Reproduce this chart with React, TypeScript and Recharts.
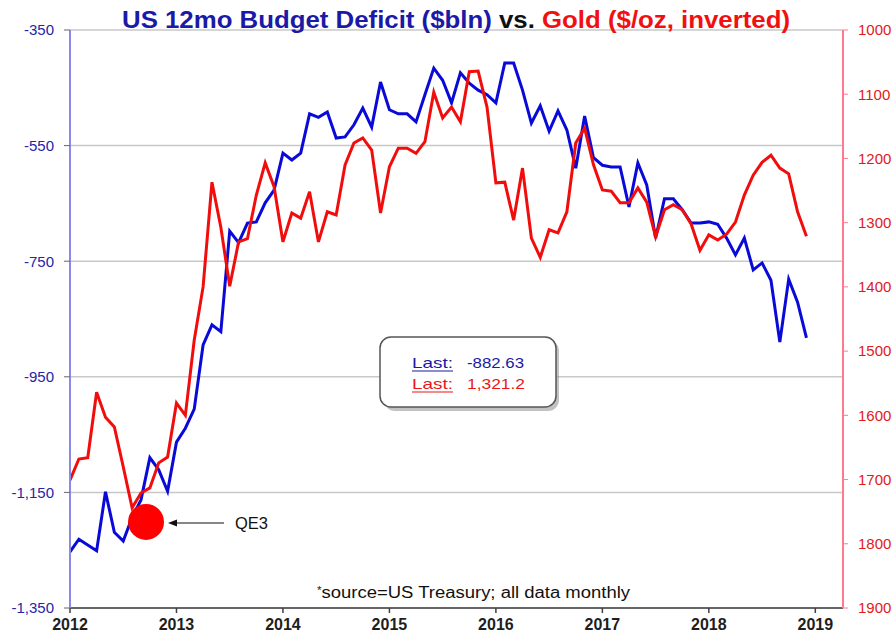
import React from "react";
import { LineChart, Line, XAxis, YAxis, CartesianGrid, ReferenceDot } from "recharts";

// Monthly, Jan 2012 .. Dec 2018
const deficit = [
  -1253, -1231, -1241, -1251, -1149, -1219, -1234, -1193, -1163, -1090, -1111, -1148,
  -1063, -1039, -1006, -895, -860, -872, -698, -718, -684, -682, -649, -627,
  -563, -575, -563, -495, -501, -492, -537, -535, -514, -485, -518, -440,
  -488, -495, -495, -509, -462, -416, -437, -476, -424, -442, -454, -462,
  -476, -407, -407, -454, -511, -481, -525, -490, -523, -589, -499, -571,
  -584, -587, -587, -656, -580, -618, -710, -642, -642, -661, -684, -684,
  -682, -686, -710, -739, -710, -765, -753, -783, -890, -781, -821, -882.63,
];
const gold = [
  1701, 1668, 1666, 1564, 1603, 1618, 1680, 1744, 1721, 1713, 1674, 1665,
  1581, 1600, 1483, 1400, 1237, 1307, 1399, 1330, 1325, 1257, 1207, 1244,
  1330, 1285, 1293, 1252, 1330, 1283, 1288, 1210, 1176, 1168, 1187, 1285,
  1213, 1184, 1184, 1192, 1174, 1097, 1137, 1120, 1143, 1065, 1064, 1120,
  1238, 1237, 1296, 1215, 1324, 1354, 1311, 1316, 1283, 1176, 1153, 1210,
  1249, 1251, 1269, 1269, 1246, 1268, 1322, 1280, 1272, 1280, 1302, 1343,
  1319, 1327, 1318, 1299, 1257, 1226, 1206, 1195, 1215, 1224, 1283, 1321.2,
];
const startYear = 2012;
const yearTicks = [2012, 2013, 2014, 2015, 2016, 2017, 2018, 2019];
const deficitTicks = [-1350, -1150, -950, -750, -550, -350];
const goldTicks = [1000, 1100, 1200, 1300, 1400, 1500, 1600, 1700, 1800, 1900];
const qe3 = { t: 2012.714, deficit: -1201 };

const data = deficit.map((d, i) => ({ t: startYear + i / 12, deficit: d, gold: gold[i] }));

const FONT = "'Liberation Sans', Arial, sans-serif";
const BLUE = "#0a0ad8";
const RED = "#f20d0d";

export default function App() {
  return (
    <div style={{ position: "absolute", left: 0, top: 0, width: 893, height: 638, background: "#fff", fontFamily: FONT }}>
      <LineChart width={893} height={638} data={data} margin={{ top: 30, right: 0, left: 0, bottom: 0 }}>
        <CartesianGrid yAxisId="left" vertical={false} stroke="#c8c8c8" strokeWidth={1.5} />
        <XAxis
          dataKey="t"
          type="number"
          domain={[2012, 2019.26]}
          ticks={yearTicks}
          allowDataOverflow
          height={30}
          stroke="#404040"
          strokeWidth={1.5}
          tickSize={5}
          tickMargin={6}
          tick={{ fill: "#1e1e1e", fontSize: 16, fontWeight: 700, fontFamily: FONT }}
        />
        <YAxis
          yAxisId="left"
          orientation="left"
          domain={[-1350, -350]}
          ticks={deficitTicks}
          allowDataOverflow
          width={70}
          axisLine={{ stroke: "#8a8ae6", strokeWidth: 2 }}
          tickLine={{ stroke: "#666" }}
          tickSize={6}
          tickMargin={10}
          tickFormatter={(v: number) => v.toLocaleString("en-US")}
          tick={{ fill: "#2525a8", fontSize: 15, fontFamily: FONT }}
        />
        <YAxis
          yAxisId="right"
          orientation="right"
          reversed
          domain={[1000, 1900]}
          ticks={goldTicks}
          allowDataOverflow
          width={50}
          axisLine={{ stroke: "#ff7a90", strokeWidth: 2 }}
          tickLine={{ stroke: "#ff7a90" }}
          tickSize={5}
          tickMargin={10}
          tick={{ fill: "#e01a1a", fontSize: 15, fontFamily: FONT, textAnchor: "start" }}
        />
        <Line yAxisId="left" dataKey="deficit" stroke={BLUE} strokeWidth={3} dot={false} isAnimationActive={false} />
        <Line yAxisId="right" dataKey="gold" stroke={RED} strokeWidth={3} dot={false} isAnimationActive={false} />
        <ReferenceDot yAxisId="left" x={qe3.t} y={qe3.deficit} r={18} fill="#ff0000" stroke="none" />
      </LineChart>
      <svg width={893} height={638} style={{ position: "absolute", left: 0, top: 0, pointerEvents: "none" }}>
        <text x={122} y={28} fontSize={24} fontWeight={700} fontFamily={FONT} textLength={668} lengthAdjust="spacingAndGlyphs">
          <tspan fill="#1a1aa6">US 12mo Budget Deficit ($bln) </tspan>
          <tspan fill="#111">vs. </tspan>
          <tspan fill="#f01010">Gold ($/oz, inverted)</tspan>
        </text>
        {/* Last box */}
        <rect x={384} y={340} width={175} height={71} rx={11} fill="#9a9a9a" opacity={0.6} />
        <rect x={380} y={337} width={176} height={70} rx={11} fill="#fff" stroke="#555" strokeWidth={1.5} />
        <text x={412} y={368} fontSize={15} fill="#1a1aa6" fontFamily={FONT} textLength={41} lengthAdjust="spacingAndGlyphs">Last:</text>
        <line x1={412} x2={453} y1={371} y2={371} stroke="#1a1aa6" strokeWidth={1.2} />
        <text x={467} y={368} fontSize={15} fill="#1a1aa6" fontFamily={FONT} textLength={57} lengthAdjust="spacingAndGlyphs">-882.63</text>
        <text x={412} y={389} fontSize={15} fill="#e81818" fontFamily={FONT} textLength={41} lengthAdjust="spacingAndGlyphs">Last:</text>
        <line x1={412} x2={453} y1={392} y2={392} stroke="#e81818" strokeWidth={1.2} />
        <text x={467} y={389} fontSize={15} fill="#e81818" fontFamily={FONT} textLength={58} lengthAdjust="spacingAndGlyphs">1,321.2</text>
        {/* QE3 annotation */}
        <line x1={224} x2={174} y1={523} y2={523} stroke="#111" strokeWidth={1.2} />
        <polygon points="168,523 177,519.5 177,526.5" fill="#111" />
        <text x={235} y={529} fontSize={16} fill="#111" fontFamily={FONT} textLength={33} lengthAdjust="spacingAndGlyphs">QE3</text>
        {/* source */}
        <text x={317} y={598} fontSize={16} fill="#111" fontFamily={FONT} textLength={313} lengthAdjust="spacingAndGlyphs">
          <tspan fontSize={10} dy={-4}>*</tspan>
          <tspan dy={4}>source=US Treasury; all data monthly</tspan>
        </text>
      </svg>
    </div>
  );
}
